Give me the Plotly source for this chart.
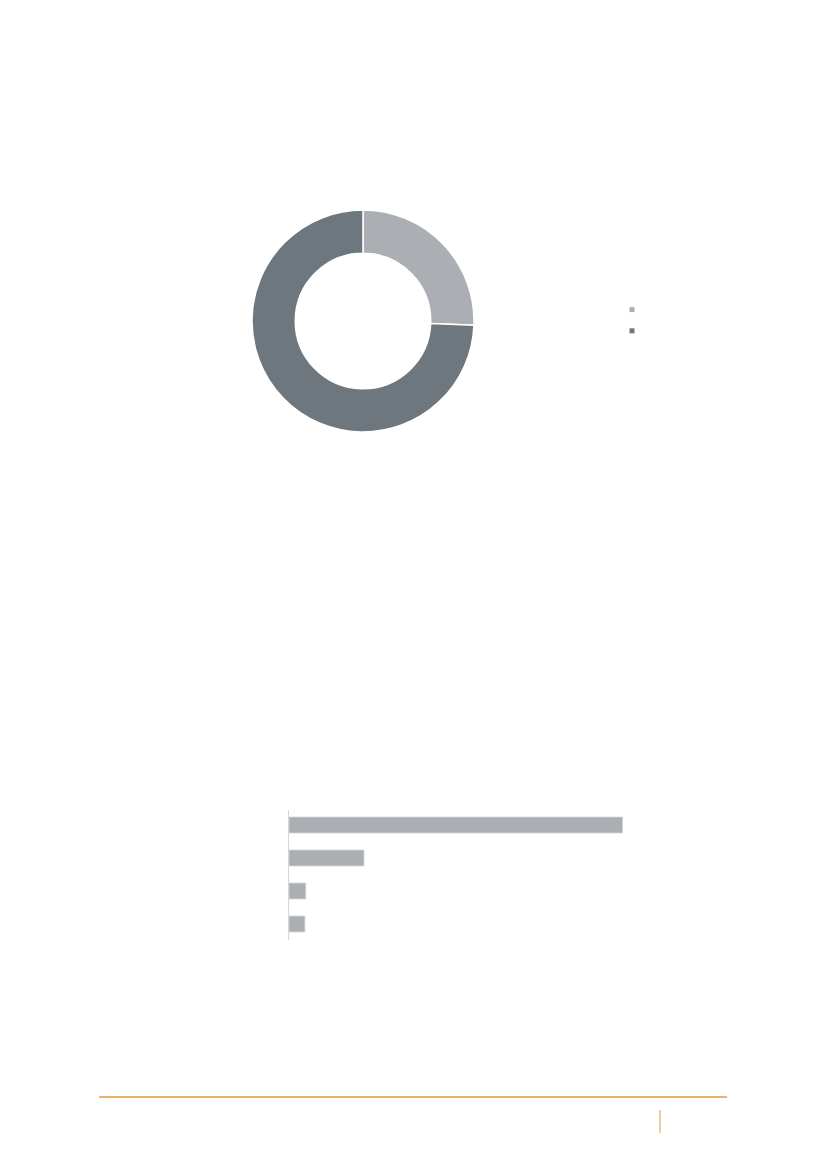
import plotly.graph_objects as go

# Donut data (share, %)
donut_labels = ["Segment A", "Segment B"]
donut_values = [25.6, 74.4]
donut_colors = ["#abafb3", "#6f777e"]

# Bar data (%)
bar_positions = [0, 1, 2, 3]
bar_values = [75.6, 17.0, 3.8, 3.6]
bar_color = "#abafb3"

W, H, OFF = 811, 1153, 8  # page body margin offset


def px(x):
    return (x - OFF) / W


def py(y):
    return 1 - (y - OFF) / H


fig = go.Figure()

fig.add_trace(go.Pie(
    labels=donut_labels,
    values=donut_values,
    hole=0.61,
    sort=False,
    direction="clockwise",
    rotation=0,
    marker=dict(colors=donut_colors, line=dict(color="white", width=1.5)),
    textinfo="none",
    hoverinfo="skip",
    showlegend=False,
    domain=dict(x=[px(252), px(474)], y=[py(432), py(210)]),
))

# legend-only markers for the donut
for name, col in zip(donut_labels, donut_colors):
    fig.add_trace(go.Scatter(
        x=[None], y=[None], mode="markers", name=" ",
        marker=dict(symbol="square", size=5, color=col),
        showlegend=True, xaxis="x", yaxis="y",
    ))

fig.add_trace(go.Bar(
    x=bar_values,
    y=bar_positions,
    orientation="h",
    width=0.485,
    marker=dict(color=bar_color, line=dict(color="#d4d7da", width=0.8)),
    showlegend=False,
    hoverinfo="skip",
))

fig.update_layout(
    width=W, height=H,
    margin=dict(l=0, r=0, t=0, b=0),
    paper_bgcolor="white", plot_bgcolor="white",
    font=dict(family="Open Sans", size=13, color="#555"),
    xaxis=dict(domain=[px(289), px(642)], range=[0, 80], visible=False, fixedrange=True),
    yaxis=dict(domain=[py(940), py(810)], range=[3.485, -0.455],
               showticklabels=False, showgrid=False, zeroline=False, ticks="",
               showline=True, linecolor="#d6d6d6", linewidth=1, fixedrange=True),
    legend=dict(x=px(612), y=py(294), xanchor="left", yanchor="top",
                font=dict(size=14), bgcolor="rgba(0,0,0,0)", tracegroupgap=0),
    shapes=[
        dict(type="line", xref="paper", yref="paper",
             x0=px(99), x1=px(727), y0=py(1097), y1=py(1097),
             line=dict(color="#e49a3e", width=1.3)),
        dict(type="line", xref="paper", yref="paper",
             x0=px(660), x1=px(660), y0=py(1110), y1=py(1133),
             line=dict(color="#e49a3e", width=1)),
    ],
)

fig.write_html("out.html")
